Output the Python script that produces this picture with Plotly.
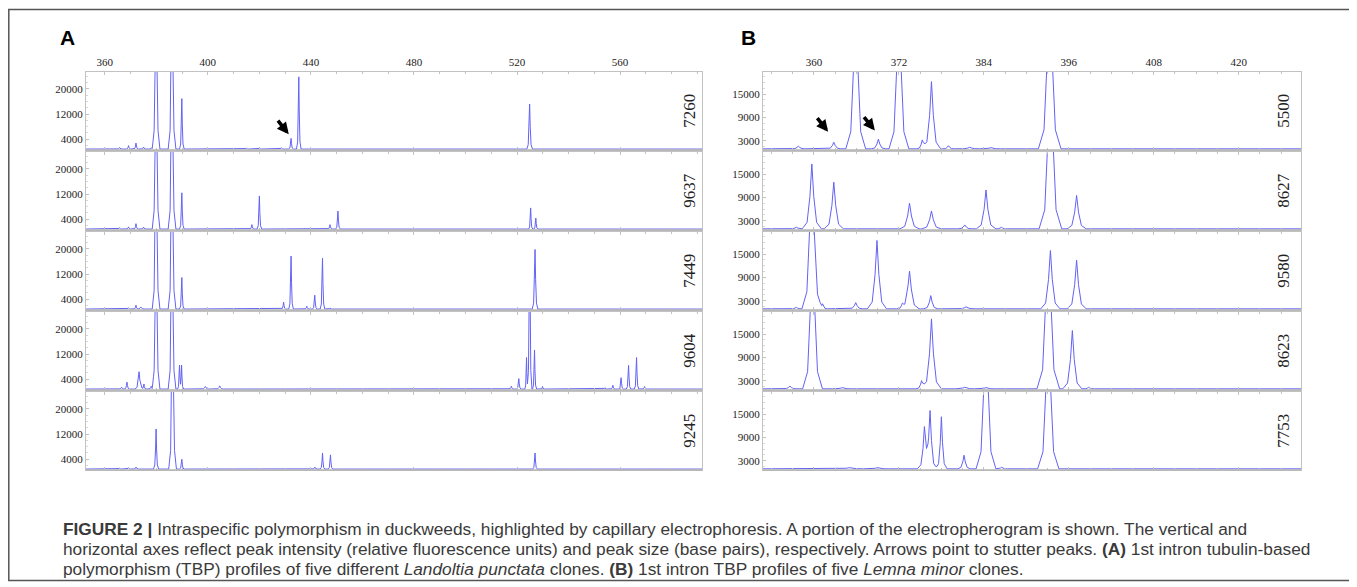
import numpy as np
import plotly.graph_objects as go

# the page body has an 8 px margin, so the figure is placed at (8, 8)
OX, OY = 8, 8
W, H = 1349, 579

# ---------------- data ----------------
# peaks: (size in bp, intensity in RFU[, half-width in bp])
A_CLONES = ["7260", "9637", "7449", "9604", "9245"]
A_7260 = [(365.7, 1400), (369.2, 2000), (372.1, 2800), (375.0, 1500), (378.2, 1300),
          (379.9, 60000, 1.5), (386.1, 60000, 1.5), (389.9, 16900), (415.0, 1200),
          (420.0, 1300), (428.5, 1300), (432.3, 4300), (435.3, 23800), (524.9, 15200, 1.1)]
A_9637 = [(365.7, 1300), (369.2, 1600), (372.1, 2600), (375.0, 1500),
          (379.9, 60000, 1.5), (386.1, 60000, 1.5), (389.9, 12400), (403.0, 1100),
          (417.1, 2300), (420.0, 11400), (447.4, 2300), (450.5, 6600),
          (525.3, 7600, 0.8), (527.3, 4400, 0.8)]
A_7449 = [(369.2, 1300), (372.1, 2100), (374.0, 1500, 1.5), (379.9, 60000, 1.5),
          (386.1, 60000, 1.5), (389.9, 10900), (429.4, 3100), (432.3, 17700),
          (438.4, 1800), (441.5, 5300), (444.5, 17000), (447.4, 1200), (527.0, 19800, 1.1)]
A_9604 = [(366.5, 1500, 1.0), (368.6, 3100, 1.0), (373.3, 6400, 1.6), (375.2, 2500, 0.8),
          (378.0, 1800), (379.9, 60000, 1.5), (386.1, 60000, 1.5), (389.0, 8500, 0.8),
          (389.8, 8500, 0.8), (399.0, 1700, 1.5), (404.6, 1900, 1.5), (517.8, 1800),
          (520.7, 4200), (523.7, 10900, 0.7), (524.9, 60000, 0.9), (526.8, 13300, 0.8),
          (529.9, 1700), (554.1, 1300), (557.2, 2100), (560.4, 4500), (563.3, 8400),
          (566.4, 10900), (569.5, 1700)]
A_9245 = [(365.7, 1200), (369.2, 1300), (372.1, 1500), (379.9, 13600, 1.0),
          (386.3, 60000, 1.5), (389.9, 4000), (441.5, 1500), (444.5, 6000),
          (447.6, 5400), (527.0, 6000)]
A_PEAKS = [A_7260, A_9637, A_7449, A_9604, A_9245]

B_CLONES = ["5500", "8627", "9580", "8623", "7753"]
B_5500 = [(357.8, 1600, 1.0), (362.8, 2600, 1.0), (365.9, 45000, 1.4), (369.1, 3400, 1.0),
          (372.0, 45000, 1.4), (375.3, 3200, 0.8), (376.6, 18200, 1.3), (379.0, 1700, 0.8),
          (382.0, 1300), (385.0, 1200), (393.3, 50000, 1.6)]
B_8627 = [(357.5, 1300, 1.0), (359.7, 17600), (362.8, 12900), (373.5, 7500), (376.6, 5500),
          (381.3, 1900, 1.0), (384.3, 10900), (386.5, 1300, 0.8), (393.4, 50000, 1.6),
          (397.1, 9500)]
B_9580 = [(357.5, 1300, 0.8), (359.7, 45000, 1.4), (361.2, 2200, 0.7), (365.9, 2500, 1.0),
          (368.9, 18500), (372.5, 1900, 0.8), (373.5, 10600), (376.5, 4300, 1.0),
          (381.5, 1400), (393.4, 15900), (397.1, 13400)]
B_8623 = [(356.6, 1600, 1.0), (359.8, 45000, 1.4), (364.0, 1200), (375.2, 3000, 0.8),
          (376.6, 18900, 1.4), (381.3, 1300), (384.3, 1200), (393.1, 50000, 1.6),
          (396.5, 15900), (398.8, 1300, 0.8)]
B_7753 = [(365.0, 1200, 2.0), (369.0, 1200, 1.5), (375.6, 11200, 1.0), (376.4, 15500, 1.0),
          (378.0, 14300, 0.8), (381.2, 4400, 0.9), (384.3, 45000, 1.4), (386.5, 1300, 0.8),
          (393.1, 45000, 1.5)]
B_PEAKS = [B_5500, B_8627, B_9580, B_8623, B_7753]

A_XRANGE, B_XRANGE = [352.7, 591.8], [352.8, 428.8]
A_YRANGE, B_YRANGE = [600, 25500], [600, 20800]
A_XTICKS = [360, 400, 440, 480, 520, 560]
B_XTICKS = [360, 372, 384, 396, 408, 420]
A_YTICKS = [4000, 12000, 20000]
B_YTICKS = [3000, 9000, 15000]
BASELINE = 900

# arrows pointing at stutter peaks: (panel, size bp, RFU)
ARROWS = [("A", 431.4, 5600), ("B", 362.0, 5300), ("B", 368.6, 5600)]

CAPTION = [
    "<b>FIGURE 2 |</b> Intraspecific polymorphism in duckweeds, highlighted by capillary electrophoresis. "
    "A portion of the electropherogram is shown. The vertical and",
    "horizontal axes reflect peak intensity (relative fluorescence units) and peak size (base pairs), "
    "respectively. Arrows point to stutter peaks. <b>(A)</b> 1st intron tubulin-based",
    "polymorphism (TBP) profiles of five different <i>Landoltia punctata</i> clones. <b>(B)</b> 1st intron "
    "TBP profiles of five <i>Lemna minor</i> clones.",
]

# ---------------- styling ----------------
PEAK_OFF = np.array([-1, -0.5, -0.2, 0, 0.2, 0.5, 1.0])
PEAK_LVL = np.array([0, 0.1, 0.5, 1.0, 0.5, 0.1, 0])
TRACE_COLOR = "#6262f5"
FRAME = "#c2c2c2"
SERIF = "Liberation Serif"
SANS = "Liberation Sans"


def profile(peaks, xr, wdef):
    xs = [xr[0], xr[1]]
    parts = []
    for p in peaks:
        w = p[2] if len(p) > 2 else wdef
        px = p[0] + PEAK_OFF * w
        xs.extend(px)
        parts.append((px, (p[1] - BASELINE) * PEAK_LVL))
    xs = np.unique(np.array(xs))
    ys = np.full(xs.shape, float(BASELINE))
    for px, py in parts:
        ys += np.interp(xs, px, py, left=0, right=0)
    return xs, ys


def fx(px):
    return (px - OX) / W


def fy(py):
    return 1 - (py - OY) / H


ROW_TOP = [71.5 + 80 * i for i in range(5)]
ROW_H = 78.5

COLS = [
    dict(x0=86, x1=702, clones=A_CLONES, peaks=A_PEAKS, xr=A_XRANGE, yr=A_YRANGE,
         xt=A_XTICKS, yt=A_YTICKS, xminor=10, yminor=2000, w=0.9, lab_x=690),
    dict(x0=763, x1=1301, clones=B_CLONES, peaks=B_PEAKS, xr=B_XRANGE, yr=B_YRANGE,
         xt=B_XTICKS, yt=B_YTICKS, xminor=3, yminor=1500, w=1.35, lab_x=1284),
]

fig = go.Figure()
layout = dict(width=W, height=H, margin=dict(l=0, r=0, t=0, b=0),
              paper_bgcolor="white", plot_bgcolor="white", showlegend=False)
annotations = []
shapes = []
axis_of = {}

for c, col in enumerate(COLS):
    for i in range(5):
        n = c * 5 + i + 1
        sfx = "" if n == 1 else str(n)
        top, bot = ROW_TOP[i], ROW_TOP[i] + ROW_H
        xs, ys = profile(col["peaks"][i], col["xr"], col["w"])
        fig.add_trace(go.Scatter(x=xs, y=ys, mode="lines", xaxis="x" + sfx, yaxis="y" + sfx,
                                 line=dict(color=TRACE_COLOR, width=1), hoverinfo="skip"))
        layout["xaxis" + sfx] = dict(
            domain=[fx(col["x0"]), fx(col["x1"])], range=col["xr"], anchor="y" + sfx,
            showline=True, linecolor=FRAME, linewidth=1, mirror="ticks",
            ticks="inside", ticklen=3, tickcolor=FRAME, tickvals=col["xt"],
            ticktext=[str(v) for v in col["xt"]], showticklabels=(i == 0), side="top",
            tickfont=dict(family=SERIF, size=11, color="#222"),
            minor=dict(dtick=col["xminor"], tick0=col["xt"][0], ticks="inside",
                       ticklen=2, tickcolor=FRAME),
            showgrid=False, zeroline=False)
        layout["yaxis" + sfx] = dict(
            domain=[fy(bot), fy(top)], range=col["yr"], anchor="x" + sfx,
            showline=True, linecolor=FRAME, linewidth=1, mirror=True,
            ticks="inside", ticklen=3, tickcolor=FRAME, tickvals=col["yt"],
            ticktext=[str(v) for v in col["yt"]],
            tickfont=dict(family=SERIF, size=11, color="#222"),
            minor=dict(dtick=col["yminor"], ticks="inside", ticklen=2, tickcolor="#d8d8d8"),
            showgrid=False, zeroline=False)
        annotations.append(dict(x=fx(col["lab_x"]), y=fy((top + bot) / 2), xref="paper",
                                yref="paper", text=col["clones"][i], textangle=-90,
                                showarrow=False, xanchor="center", yanchor="middle",
                                font=dict(family=SERIF, size=17, color="#222")))
        shapes.append(dict(type="line", xref="paper", yref="paper",
                           x0=fx(col["x0"]), x1=fx(col["x1"]), y0=fy(bot), y1=fy(bot),
                           line=dict(color="#b4b4b4", width=1.5)))
        if i == 0:
            axis_of["AB"[c]] = sfx

for panel, xb, yv in ARROWS:
    sfx = axis_of[panel]
    annotations.append(dict(x=xb, y=yv, xref="x" + sfx, yref="y" + sfx, text="",
                            showarrow=True, arrowhead=2, arrowsize=0.65, arrowwidth=3.6,
                            arrowcolor="black", ax=-12, ay=-15))

annotations.append(dict(x=fx(58), y=fy(38), xref="paper", yref="paper", text="<b>A</b>",
                        showarrow=False, xanchor="left", yanchor="middle",
                        font=dict(family=SANS, size=21, color="black")))
annotations.append(dict(x=fx(739), y=fy(38), xref="paper", yref="paper", text="<b>B</b>",
                        showarrow=False, xanchor="left", yanchor="middle",
                        font=dict(family=SANS, size=21, color="black")))

for k, line in enumerate(CAPTION):
    annotations.append(dict(x=fx(61), y=fy(529 + 20 * k), xref="paper", yref="paper",
                            text=line, showarrow=False, xanchor="left", yanchor="middle",
                            font=dict(family=SANS, size=17.3, color="#3a3a3a")))

shapes.append(dict(type="rect", xref="paper", yref="paper", x0=fx(8.8), x1=fx(1354.5),
                   y0=fy(580.5), y1=fy(9.5), line=dict(color="#555", width=1.5)))

layout["annotations"] = annotations
layout["shapes"] = shapes
fig.update_layout(**layout)
fig.write_html("out.html")
